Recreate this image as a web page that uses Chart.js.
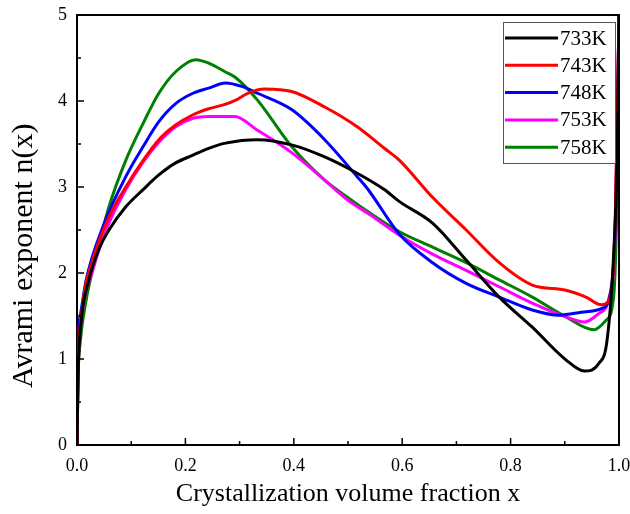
<!DOCTYPE html>
<html>
<head>
<meta charset="utf-8">
<script src="https://cdn.jsdelivr.net/npm/chart.js@4.4.1/dist/chart.umd.min.js"></script>
<style>
  html, body { margin: 0; padding: 0; background: #fff; }
  #wrap { width: 630px; height: 514px; }
</style>
</head>
<body>
<div id="wrap"><canvas id="chart" width="630" height="514"></canvas></div>
<script>
// series labels and colours
var labels = ["733K", "743K", "748K", "753K", "758K"];
var colors = ["#000000", "#ff0000", "#0000ff", "#ff00ff", "#008000"];

// values (x = crystallized fraction, y = n(x))
var x733 = [0, 0.002, 0.008, 0.022, 0.04, 0.059, 0.09, 0.122, 0.151, 0.182, 0.214, 0.243, 0.274, 0.333, 0.396, 0.457, 0.517, 0.567, 0.595, 0.656, 0.718, 0.779, 0.84, 0.902, 0.936, 0.963, 0.978, 0.99, 0.997, 1.0];
var y733 = [0, 0.8, 1.45, 1.92, 2.27, 2.50, 2.77, 2.97, 3.14, 3.28, 3.37, 3.45, 3.51, 3.55, 3.49, 3.35, 3.16, 2.97, 2.83, 2.58, 2.15, 1.72, 1.37, 0.99, 0.86, 0.95, 1.22, 2.2, 3.5, 5];

var x743 = [0, 0.002, 0.01, 0.029, 0.059, 0.09, 0.122, 0.151, 0.182, 0.214, 0.243, 0.273, 0.293, 0.315, 0.346, 0.396, 0.457, 0.517, 0.567, 0.595, 0.656, 0.718, 0.779, 0.84, 0.902, 0.939, 0.967, 0.982, 0.993, 1.0];
var y743 = [0, 0.85, 1.6, 2.15, 2.65, 3.0, 3.31, 3.55, 3.72, 3.84, 3.91, 3.96, 4.01, 4.09, 4.14, 4.11, 3.93, 3.70, 3.45, 3.31, 2.88, 2.50, 2.12, 1.86, 1.80, 1.72, 1.63, 1.69, 2.6, 5];

var x748 = [0, 0.002, 0.006, 0.017, 0.048, 0.09, 0.122, 0.151, 0.182, 0.214, 0.243, 0.274, 0.304, 0.333, 0.396, 0.457, 0.517, 0.536, 0.595, 0.656, 0.718, 0.779, 0.84, 0.889, 0.939, 0.969, 0.985, 0.994, 1.0];
var y748 = [0, 1.2, 1.5, 1.92, 2.54, 3.12, 3.47, 3.76, 3.97, 4.09, 4.15, 4.21, 4.17, 4.09, 3.90, 3.55, 3.12, 2.98, 2.45, 2.12, 1.88, 1.72, 1.57, 1.51, 1.55, 1.59, 1.8, 2.7, 5];

var x753 = [0, 0.002, 0.008, 0.029, 0.059, 0.09, 0.122, 0.151, 0.182, 0.214, 0.243, 0.28, 0.291, 0.333, 0.396, 0.457, 0.499, 0.54, 0.595, 0.656, 0.718, 0.779, 0.84, 0.902, 0.936, 0.963, 0.982, 0.993, 1.0];
var y753 = [0, 0.9, 1.45, 2.03, 2.58, 2.97, 3.29, 3.52, 3.70, 3.80, 3.82, 3.82, 3.82, 3.66, 3.40, 3.08, 2.85, 2.68, 2.44, 2.22, 2.03, 1.84, 1.65, 1.49, 1.43, 1.53, 1.72, 2.5, 5];

var x758 = [0, 0.002, 0.006, 0.017, 0.035, 0.059, 0.09, 0.122, 0.151, 0.182, 0.219, 0.243, 0.273, 0.293, 0.333, 0.396, 0.457, 0.506, 0.54, 0.595, 0.656, 0.718, 0.779, 0.84, 0.902, 0.954, 0.976, 0.99, 0.996, 1.0];
var y758 = [0, 0.8, 1.2, 1.69, 2.19, 2.77, 3.31, 3.74, 4.09, 4.34, 4.48, 4.44, 4.34, 4.27, 4.01, 3.47, 3.08, 2.85, 2.70, 2.48, 2.30, 2.12, 1.92, 1.72, 1.49, 1.34, 1.45, 1.72, 2.8, 5];

var xTicks = [0, 0.2, 0.4, 0.6, 0.8, 1.0];
var xMinor = [0.1, 0.3, 0.5, 0.7, 0.9];
var yTicks = [0, 1, 2, 3, 4, 5];
var yMinor = [0.5, 1.5, 2.5, 3.5, 4.5];

var yTitle = "Avrami exponent n(x)";
var xTitle = "Crystallization volume fraction x";

var allX = [x733, x743, x748, x753, x758];
var allY = [y733, y743, y748, y753, y758];

function toPoints(xs, ys) {
  var pts = [];
  for (var i = 0; i < xs.length; i++) pts.push({ x: xs[i], y: ys[i] });
  return pts;
}

var datasets = labels.map(function (lab, i) {
  return {
    label: lab,
    data: toPoints(allX[i], allY[i]),
    borderColor: colors[i],
    backgroundColor: colors[i],
    borderWidth: 3,
    pointRadius: 0,
    fill: false,
    cubicInterpolationMode: "monotone"
  };
});

var serif = "'Liberation Serif', 'Times New Roman', serif";

// frame on top/right, inward major/minor ticks, y title (sits a bit low in the original)
var framePlugin = {
  id: "frame",
  afterDraw: function (chart) {
    var ctx = chart.ctx;
    var a = chart.chartArea;
    var xs = chart.scales.x, ys = chart.scales.y;
    ctx.save();
    ctx.strokeStyle = "#000";
    ctx.lineWidth = 2;
    ctx.beginPath();
    ctx.moveTo(a.left, a.top);
    ctx.lineTo(a.right, a.top);
    ctx.lineTo(a.right, a.bottom);
    ctx.stroke();

    ctx.lineWidth = 1.5;
    ctx.beginPath();
    xTicks.forEach(function (v) {
      var p = xs.getPixelForValue(v);
      ctx.moveTo(p, a.bottom);
      ctx.lineTo(p, a.bottom - 7);
    });
    xMinor.forEach(function (v) {
      var p = xs.getPixelForValue(v);
      ctx.moveTo(p, a.bottom);
      ctx.lineTo(p, a.bottom - 4);
    });
    yTicks.forEach(function (v) {
      var p = ys.getPixelForValue(v);
      ctx.moveTo(a.left, p);
      ctx.lineTo(a.left + 7, p);
    });
    yMinor.forEach(function (v) {
      var p = ys.getPixelForValue(v);
      ctx.moveTo(a.left, p);
      ctx.lineTo(a.left + 4, p);
    });
    ctx.stroke();

    ctx.translate(24, ys.getPixelForValue(2.2));
    ctx.rotate(-Math.PI / 2);
    ctx.fillStyle = "#000";
    ctx.font = "30px " + serif;
    ctx.textAlign = "center";
    ctx.textBaseline = "middle";
    ctx.fillText(yTitle, 0, 0);
    ctx.restore();
  }
};

// boxed legend inside the top-right corner of the plot
var legendPlugin = {
  id: "boxLegend",
  afterDatasetsDraw: function (chart) {
    var ctx = chart.ctx;
    var a = chart.chartArea;
    var w = 112, h = 141;
    var left = a.right - 4 - w, top = a.top + 7;
    ctx.save();
    ctx.fillStyle = "#fff";
    ctx.fillRect(left, top, w, h);
    ctx.strokeStyle = "#555";
    ctx.lineWidth = 1;
    ctx.strokeRect(left + 0.5, top + 0.5, w, h);
    ctx.font = "21px " + serif;
    ctx.textBaseline = "middle";
    chart.data.datasets.forEach(function (ds, i) {
      var yy = top + 16 + i * 27.3;
      ctx.strokeStyle = ds.borderColor;
      ctx.lineWidth = 3;
      ctx.beginPath();
      ctx.moveTo(left + 2, yy);
      ctx.lineTo(left + 55, yy);
      ctx.stroke();
      ctx.fillStyle = "#000";
      ctx.fillText(ds.label, left + 57, yy + 1);
    });
    ctx.restore();
  }
};

new Chart(document.getElementById("chart"), {
  type: "line",
  data: { datasets: datasets },
  options: {
    responsive: false,
    animation: false,
    layout: { padding: { top: 15, right: 11, left: 0, bottom: 0 } },
    plugins: { legend: { display: false }, tooltip: { enabled: false } },
    scales: {
      x: {
        type: "linear",
        min: 0,
        max: 1,
        afterFit: function (s) { s.height = 69; s.paddingLeft = 0; s.paddingRight = 0; },
        afterBuildTicks: function (s) { s.ticks = xTicks.map(function (v) { return { value: v }; }); },
        grid: { display: false, drawTicks: false },
        border: { display: true, color: "#000", width: 2 },
        ticks: {
          padding: 10,
          color: "#000",
          font: { family: serif, size: 18 },
          maxRotation: 0,
          callback: function (v) { return Number(v).toFixed(1); }
        },
        title: {
          display: true,
          text: xTitle,
          color: "#000",
          font: { family: serif, size: 26 },
          padding: { top: 0, bottom: 4 }
        }
      },
      y: {
        min: 0,
        max: 5,
        afterFit: function (s) { s.width = 77; s.paddingTop = 0; s.paddingBottom = 0; },
        afterBuildTicks: function (s) { s.ticks = yTicks.map(function (v) { return { value: v }; }); },
        grid: { display: false, drawTicks: false },
        border: { display: true, color: "#000", width: 2 },
        ticks: {
          padding: 10,
          color: "#000",
          font: { family: serif, size: 18 }
        },
        title: { display: false }
      }
    }
  },
  plugins: [framePlugin, legendPlugin]
});
</script>
</body>
</html>
